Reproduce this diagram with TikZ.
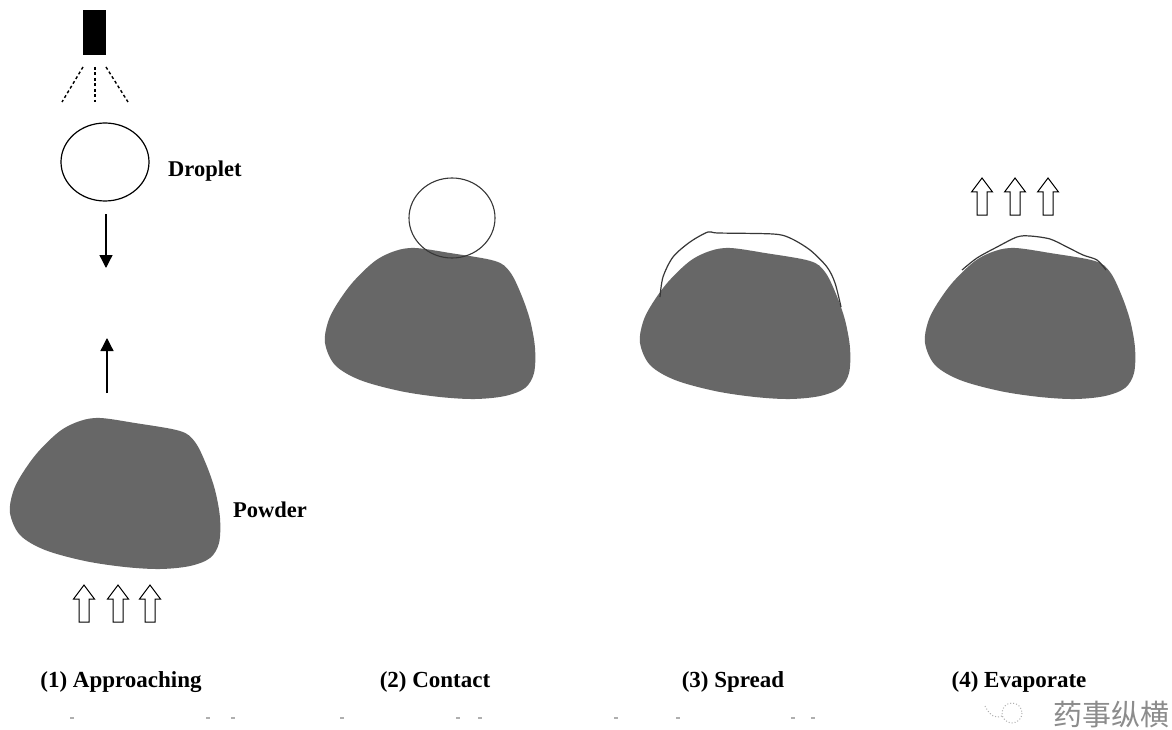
\documentclass[tikz,border=0pt]{standalone}
\usepackage{fontspec}
\setmainfont{Liberation Serif}
\newfontfamily\cjkfont{Noto Sans CJK SC}
\usetikzlibrary{arrows.meta,shapes.geometric}
\definecolor{powder}{RGB}{103,103,103}
\definecolor{film}{RGB}{55,55,55}
\definecolor{faintgray}{RGB}{175,175,175}
\begin{document}
\begin{tikzpicture}[x=1pt,y=-1pt,
  caption/.style={font=\fontsize{23}{27}\selectfont\bfseries, inner sep=0pt, anchor=base},
  tag/.style={font=\fontsize{22.5}{26}\selectfont\bfseries, inner sep=0pt, anchor=base west},
  spray/.style={line width=1.4pt, dash pattern=on 3pt off 2.5pt},
  motion/.style={line width=1.3pt, -{Triangle[length=13pt,width=13pt]}},
  filmline/.style={draw=film, line width=1.2pt},
  blob/.pic={
    \fill[powder] plot[smooth cycle, tension=0.55] coordinates {
      (90,0) (125,5) (170,13) (185,24) (196,46) (205,72) (210,100)
      (209,125) (200,140) (180,148) (150,151) (115,149) (75,143)
      (35,132) (10,117) (0,95) (3,74) (12,56) (28,34) (50,13) (70,3)};
  },
  hollow/.pic={
    \draw[line width=1pt, fill=white, line join=miter]
      (0,0) -- (10.5,14) -- (5,14) -- (5,37) -- (-5,37) -- (-5,14) -- (-10.5,14) -- cycle;
  }
]
\useasboundingbox[fill=white] (0,0) rectangle (1172,730);

% ---- (1) Approaching ----
\node[fill=black, minimum width=23pt, minimum height=45pt, inner sep=0pt] (nozzle) at (94.5,32.5) {};
\coordinate (s0) at (83,67);
\coordinate (s1) at (95,67);
\coordinate (s2) at (106,67);
\coordinate (e0) at (62,102);
\coordinate (e1) at (95,102);
\coordinate (e2) at (128,102);
\draw[spray] (s0) -- (e0);
\draw[spray] (s1) -- (e1);
\draw[spray] (s2) -- (e2);

\node[draw, ellipse, line width=1.2pt, minimum width=88pt, minimum height=78pt, inner sep=0pt] (drop) at (105,162) {};
\node[tag] (droptag) at (168,177) {Droplet};

\coordinate (dtop) at (106,214);
\coordinate (dbot) at (106,268);
\draw[motion] (dtop) -- (dbot);
\coordinate (ubot) at (107,393);
\coordinate (utop) at (107,338);
\draw[motion] (ubot) -- (utop);

\pic (p1) at (10,418) {blob};
\node[tag] (powdertag) at (233,517) {Powder};
\pic at (84,585) {hollow};
\pic at (118,585) {hollow};
\pic at (150,585) {hollow};

% ---- (2) Contact ----
\pic (p2) at (325,248) {blob};
\node[draw=film, ellipse, line width=1.1pt, minimum width=86pt, minimum height=80pt, inner sep=0pt] (drop2) at (452,218) {};

% ---- (3) Spread ----
\pic (p3) at (640,248) {blob};
\draw[filmline] plot[smooth, tension=0.5] coordinates {
  (660,297) (663,277) (673,257) (690,242) (708,232) (718,233)
  (773,234) (790,238) (810,250) (827,267) (835,283) (841,307)};

% ---- (4) Evaporate ----
\pic (p4) at (925,248) {blob};
\draw[filmline] plot[smooth, tension=0.5] coordinates {
  (962,270) (977,258) (997,247) (1017,237) (1030,236) (1050,239)
  (1067,247) (1083,255) (1097,260) (1106,270)};
\pic at (982,178) {hollow};
\pic at (1015,178) {hollow};
\pic at (1048,178) {hollow};

% ---- captions ----
\node[caption] (c1) at (121,687) {(1) Approaching};
\node[caption] (c2) at (435,687) {(2) Contact};
\node[caption] (c3) at (733,687) {(3) Spread};
\node[caption] (c4) at (1019,687) {(4) Evaporate};

% ---- faint marks along the bottom ----
\foreach \mx in {72,208,233,342,458,480,616,678,793,813}
  \draw[faintgray, line width=1.5pt] (\mx-2,718) -- (\mx+2,718);

% ---- watermark ----
\draw[faintgray, line width=1pt, dotted] (1012,713) circle (10);
\draw[faintgray, line width=1pt, dotted] (985,706) .. controls (990,716) and (996,719) .. (1002,716);
\node[font=\cjkfont\fontsize{29}{32}\selectfont, text=faintgray!80!black, inner sep=0pt, anchor=base west] (wm) at (1053,725) {药事纵横};
\end{tikzpicture}
\end{document}
